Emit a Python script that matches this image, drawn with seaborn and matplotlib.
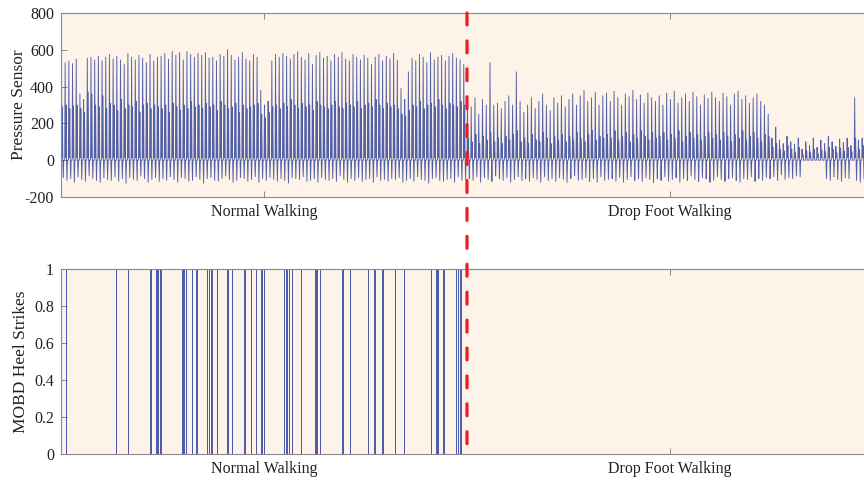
import numpy as np
import matplotlib
matplotlib.use("Agg")
import matplotlib.pyplot as plt
import seaborn as sns
from matplotlib.patches import ConnectionPatch

# Stride-by-stride values (heel peak, second peak, dip)
normal_peaks = [545, 530, 540, 525, 550,
                360, 330,
                555, 560, 545, 565, 540, 560, 575, 550, 565, 545, 520, 580, 560, 545, 570, 555, 530, 575, 540, 560,
                565, 580, 550, 590, 570, 585, 545, 590, 575, 560, 580,
                570, 585, 555, 560, 540, 575, 565, 600, 570, 545, 560, 585, 550, 540, 575, 560,
                380, 300, 320, 540,
                575, 560, 580, 565, 550, 575, 590, 560, 545, 580, 520, 570, 585, 555, 565,
                540, 575, 560, 585, 550, 540, 575, 560, 545, 570, 555, 520, 560, 575, 540, 565, 550, 580, 545,
                390, 330, 480,
                555, 540, 575, 560, 530, 585, 545, 560, 570, 540, 565, 580, 555, 545, 520]
normal_mid = [290, 300, 280, 295, 300,
              280, 260,
              370, 360, 300, 290, 350, 280, 310, 300, 270, 330, 280, 300, 290, 320, 260, 300, 310, 280, 300, 290,
              280, 300, 260, 310, 290, 270, 300, 280, 320, 290, 300,
              280, 310, 290, 300, 270, 320, 300, 280, 290, 310, 260, 300, 280, 290, 300, 310,
              250, 230, 260, 290,
              300, 280, 310, 290, 330, 300, 280, 310, 290, 300, 270, 320, 300, 290, 280,
              300, 320, 290, 280, 310, 300, 290, 320, 280, 300, 310, 290, 330, 300, 280, 310, 290, 300, 280,
              250, 240, 270,
              300, 290, 320, 280, 300, 310, 290, 330, 300, 280, 310, 300, 290, 320, 300]
normal_dip = [-95, -110, -100, -120, -90, -105, -115, -85, -100, -110,
              -120, -95, -105, -110, -90, -115, -100, -125, -95, -105,
              -110, -85, -100, -120, -105, -95, -115, -100, -110, -90,
              -105, -120, -95, -100, -115, -110, -90, -105, -125, -100,
              -95, -110, -115, -100, -85, -105, -120, -110, -95, -100,
              -115, -105, -90, -120, -100, -110, -95, -105, -115, -100,
              -110, -125, -95, -100, -105, -90, -115, -110, -100, -120,
              -95, -105, -110, -100, -115, -85, -105, -120, -100, -110,
              -95, -115, -105, -100, -120, -90, -110, -105, -115, -100,
              -105, -95, -120, -110, -100, -115, -90, -105, -110, -125,
              -100, -95, -110, -115, -105, -100, -120, -90, -110, -105]

drop_peaks = [320, 290, 340, 250, 330, 300,
              530, 300, 310,
              280, 320, 350, 300, 480, 320,
              260, 300, 340, 280, 320, 360, 300, 270, 340, 310, 350, 290,
              330, 360, 300, 350, 380, 320, 340, 370, 300, 350,
              365, 320, 375, 340, 300, 360, 345, 380, 330, 355, 310, 365, 340, 320,
              350, 300, 365, 330, 375, 310, 340, 360, 320, 370, 345, 300, 355, 335,
              370, 340, 320, 365, 345, 300, 360, 375, 330, 350, 310, 340, 360, 320, 300,
              250, 120, 180, 110, 90, 130, 100, 85, 120,
              60, 100, 80, 120, 70, 110, 90, 130, 100, 75, 115, 95, 120, 80,
              340, 110, 120, 100, 125]
drop_mid = [120, 100, 140, 90, 130, 110,
            150, 100, 120,
            90, 130, 110, 140, 160, 100,
            120, 90, 140, 110, 100, 150, 120, 90, 130, 110, 140, 100,
            130, 110, 150, 120, 100, 140, 160, 110, 130, 120,
            140, 120, 160, 110, 130, 150, 100, 140, 120, 160, 130, 110, 150, 120,
            130, 150, 110, 140, 120, 160, 100, 130, 150, 120, 140, 110, 130, 150,
            120, 140, 110, 150, 130, 100, 140, 120, 160, 110, 130, 150, 120, 100, 140,
            130, 70, 90, 60, 50, 80, 60, 40, 70,
            30, 50, 40, 60, 35, 55, 45, 70, 60, 40, 65, 50, 70, 45,
            120, 60, 80, 50, 70]
drop_dip = [-100, -110, -90, -120, -95, -105, -115, -85, -100, -110,
            -95, -120, -105, -90, -110, -100, -115, -95, -105, -120,
            -90, -110, -100, -115, -95, -105, -120, -100, -85, -110,
            -105, -95, -115, -100, -120, -90, -110, -105, -100, -115,
            -95, -120, -105, -90, -110, -100, -115, -95, -105, -120,
            -100, -110, -90, -115, -105, -95, -120, -100, -110, -85,
            -105, -115, -95, -100, -120, -110, -90, -105, -115, -100,
            -95, -110, -120, -100, -105, -90, -115, -100, -110, -95,
            -100, -90, -110, -80, -105, -95, -100, -85, -90,
            0, 0, 0, 0, 0, 0, -100, -110, -90, -105, -115, -95, -100, 0,
            -110, -120, -100, 0, -115]

# MOBD detected heel strikes (sample positions, normal walking only)
heel_strikes = [12, 135, 165, 220, 233, 237, 245, 297, 301, 307, 322, 333, 359, 364, 370,
                384, 410, 420, 451, 468, 480, 493, 499, 549, 555, 561, 568, 591, 626, 630,
                637, 693, 712, 755, 772, 791, 822, 844, 911, 924, 928, 942, 973, 978, 984]

walk_labels = ["Normal Walking", "Drop Foot Walking"]
line_col = "#34479c"
heel_col = "#4a5aa8"
bg = "#fdf3e8"


def build_trace(peaks, mids, dips):
    vals = []
    for hi, mid, lo in zip(peaks, mids, dips):
        vals += [0, hi, 15, mid, 0, lo, 0, 0]
    return np.array(vals, dtype=float)


p_normal = build_trace(normal_peaks, normal_mid, normal_dip)
p_drop = build_trace(drop_peaks, drop_mid, drop_dip)
t_normal = np.linspace(0, 1000, len(p_normal), endpoint=False)
t_drop = np.linspace(1000, 2000, len(p_drop), endpoint=False)
t_press = np.concatenate([t_normal, t_drop])
pressure = np.concatenate([p_normal, p_drop])

t_heel, heel = [0], [0]
for h in heel_strikes:
    t_heel += [h, h, h + 1, h + 1]
    heel += [0, 1, 1, 0]
t_heel.append(2000)
heel.append(0)

sns.set_style("ticks")
plt.rcParams["font.family"] = ["Liberation Serif", "DejaVu Serif"]
plt.rcParams["axes.unicode_minus"] = False

fig = plt.figure(figsize=(8.64, 4.8), dpi=100)
# the right edge of the panels runs past the image border, as in the original
ax1 = fig.add_axes([0.0706, 0.5896, 0.9398, 0.3833])
ax2 = fig.add_axes([0.0706, 0.0542, 0.9398, 0.3854])

sns.lineplot(x=t_press, y=pressure, ax=ax1, color=line_col, linewidth=0.65,
             alpha=0.85, estimator=None, sort=False)
sns.lineplot(x=t_heel, y=heel, ax=ax2, color=heel_col, linewidth=0.7,
             estimator=None, sort=False)

for ax in (ax1, ax2):
    ax.set_facecolor(bg)
    ax.set_xlim(0, 2000)
    ax.set_xticks([500, 1500])
    ax.set_xticklabels(walk_labels)
    ax.tick_params(direction="in", top=True, right=True, length=4, width=0.6,
                   color="#777777", labelsize=11.5, labelcolor="#222222", pad=5)
    for s in ax.spines.values():
        s.set_color("#8a8a8a")
        s.set_linewidth(0.8)

ax1.set_ylim(-200, 800)
ax1.set_yticks([-200, 0, 200, 400, 600, 800])
ax1.set_ylabel("Pressure Sensor", fontsize=12.5, color="#222222", labelpad=-2)

ax2.set_ylim(0, 1)
ax2.set_yticks([0, 0.2, 0.4, 0.6, 0.8, 1])
ax2.set_yticklabels(["0", "0.2", "0.4", "0.6", "0.8", "1"])
ax2.set_ylabel("MOBD Heel Strikes", fontsize=12.5, color="#222222", labelpad=4)

# red dashed divider across both panels
lw = 2.3
con = ConnectionPatch(xyA=(1000, 800), coordsA=ax1.transData,
                      xyB=(1000, 0), coordsB=ax2.transData,
                      color="#ee1d23", linewidth=lw,
                      linestyle=(0, (8.6 / lw, 11.5 / lw)), zorder=10)
fig.add_artist(con)

fig.savefig("out.png", dpi=100)
